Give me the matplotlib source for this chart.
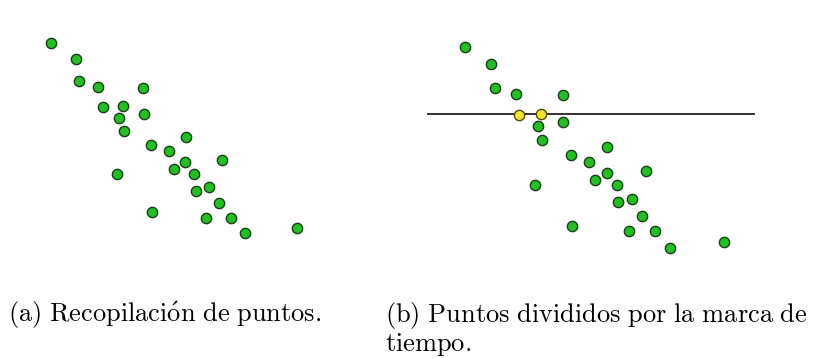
import matplotlib
matplotlib.use("Agg")
import matplotlib.pyplot as plt

plt.rcParams['mathtext.fontset'] = 'cm'

# panel (a): points collected (pixel-like units, y grows downward)
xa = [50.7, 76, 79, 98.3, 143.3, 102.7, 122.7, 119.3, 144, 124, 185.7, 151, 169,
      185, 222.3, 174, 194.3, 117.3, 209.3, 196.3, 218.7, 151.7, 206.3, 230.7, 245.3, 296.7]
ya = [42.7, 58.7, 81, 87, 87.7, 107.3, 106, 117.7, 114, 130.7, 137.3, 145, 151.3,
      162.3, 160.3, 168.7, 173.7, 173.7, 187, 190.7, 203, 212.3, 217.7, 218.3, 233.3, 228]

# panel (b): same points, split by the time mark
xb = [465, 491.3, 495.3, 515.7, 562.7, 537.7, 563.3, 542.3, 607.3, 570.7, 589.3,
      606.7, 645.7, 595.3, 616.7, 535.3, 632.3, 618, 642.3, 571.7, 628.7, 654.7, 670.3, 724]
yb = [46.7, 64, 87.7, 93.7, 94.7, 126, 122.3, 140, 147, 155, 161.7,
      172.7, 170.7, 179.7, 184.7, 184.7, 199, 202.3, 215.7, 225.7, 231, 231.3, 247.7, 241.7]
xb_cut = [519.3, 540.7]
yb_cut = [115.3, 114.3]
mark_y = 114.3
mark_x = [428, 754]

cap_a = r'$\mathrm{(a)\ Recopilaci\acute{o}n\ de\ puntos.}$'
cap_b1 = r'$\mathrm{(b)\ Puntos\ divididos\ por\ la\ marca\ de}$'
cap_b2 = r'$\mathrm{tiempo.}$'

fig = plt.figure(figsize=(8.19, 3.58), dpi=100)
ax = fig.add_axes([0, 0, 1, 1])
ax.set_xlim(0, 819)
ax.set_ylim(358, 0)
ax.axis('off')

green = '#22c022'
edge = '#174017'
ax.scatter(xa, ya, s=55, c=green, edgecolors=edge, linewidths=1.0, zorder=3)
ax.scatter(xb, yb, s=55, c=green, edgecolors=edge, linewidths=1.0, zorder=3)
ax.plot(mark_x, [mark_y, mark_y], color='#222222', lw=1.3, zorder=2)
ax.scatter(xb_cut, yb_cut, s=55, c='#f2e52a', edgecolors='#4d4a10', linewidths=1.0, zorder=3)

fs = 19
ax.text(8, 322, cap_a, fontsize=fs, ha='left', va='baseline')
ax.text(385, 322, cap_b1, fontsize=fs, ha='left', va='baseline')
ax.text(385, 351.5, cap_b2, fontsize=fs, ha='left', va='baseline')

fig.savefig('out.png', dpi=100)
